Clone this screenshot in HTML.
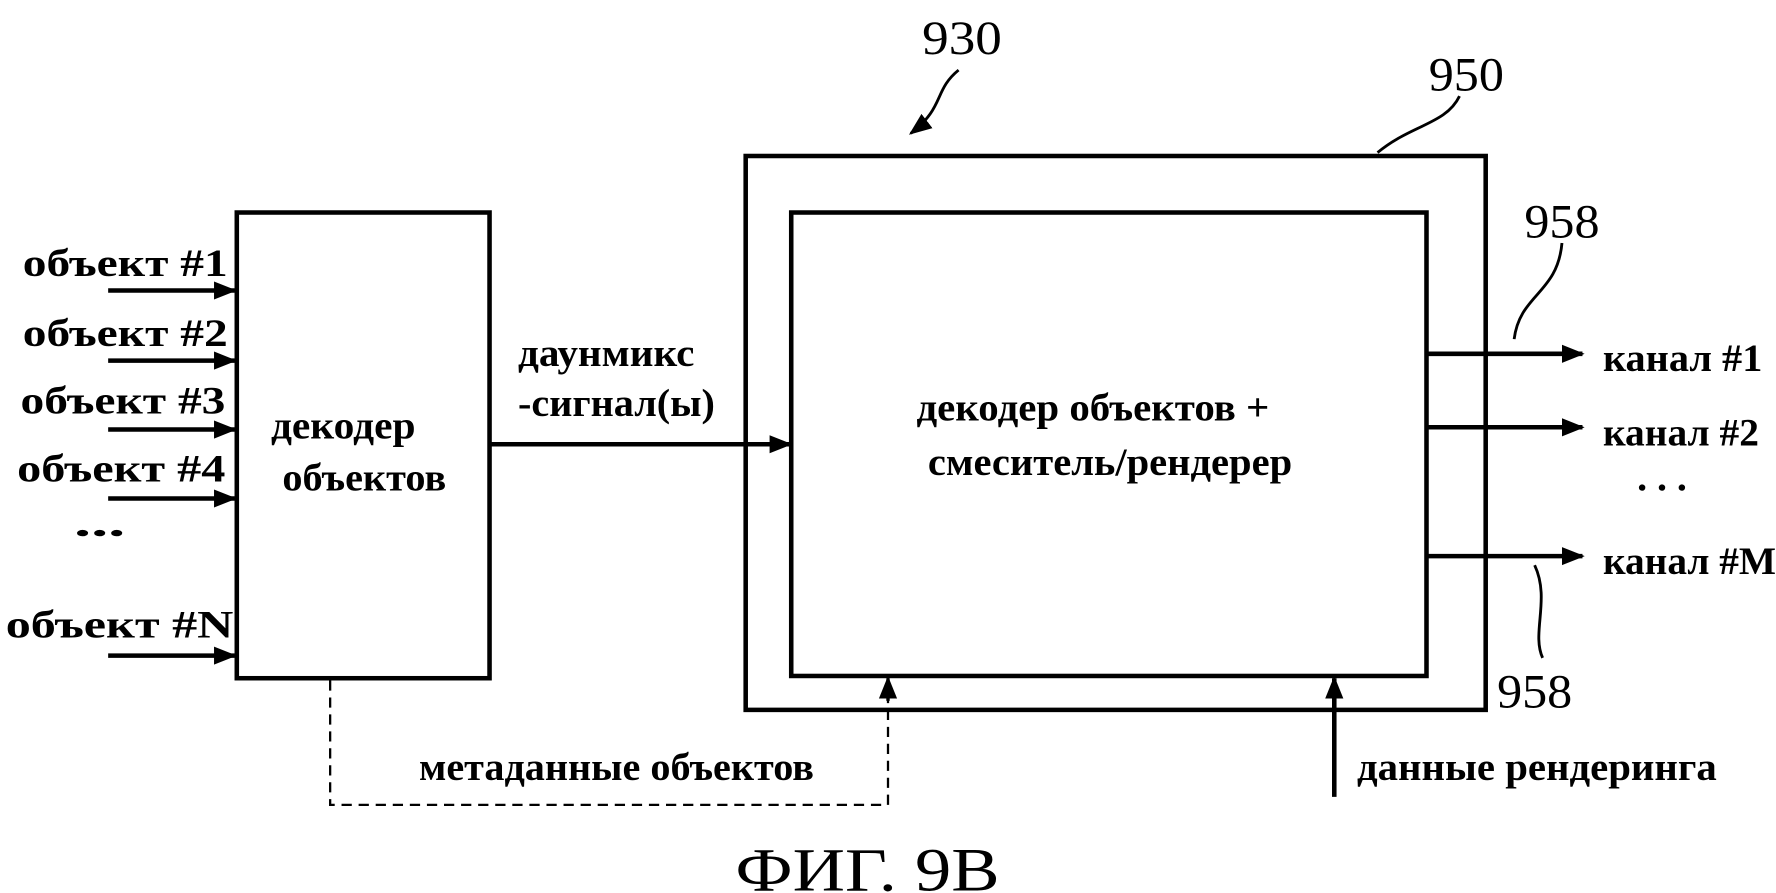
<!DOCTYPE html>
<html><head><meta charset="utf-8"><style>
html,body{margin:0;padding:0;background:#fff;width:1776px;height:893px;overflow:hidden}
svg{display:block}
text{font-family:"Liberation Serif",serif;fill:#000}
.t{font-size:35px;font-weight:bold}
</style></head><body>
<svg width="1776" height="893" viewBox="0 0 1560 790" preserveAspectRatio="none" xmlns="http://www.w3.org/2000/svg">
<defs>
<marker id="b" viewBox="0 0 10 10" refX="9" refY="5" markerWidth="20" markerHeight="20" orient="auto" markerUnits="userSpaceOnUse"><path d="M0,1 L10,5 L0,9 z" fill="#000"/></marker></defs>
<g stroke="#000" fill="none">
<rect x="208" y="188" width="222" height="412" stroke-width="4"/>
<rect x="655" y="138" width="650" height="490" stroke-width="4"/>
<rect x="695" y="188" width="558" height="410" stroke-width="4"/>
<g stroke-width="4" marker-end="url(#b)">
<line x1="95" y1="257" x2="206" y2="257"/>
<line x1="95" y1="319" x2="206" y2="319"/>
<line x1="95" y1="380" x2="206" y2="380"/>
<line x1="95" y1="441" x2="206" y2="441"/>
<line x1="95" y1="580" x2="206" y2="580"/>
<line x1="430" y1="393" x2="694" y2="393"/>
<line x1="1253" y1="313" x2="1390" y2="313"/>
<line x1="1253" y1="378" x2="1390" y2="378"/>
<line x1="1253" y1="492" x2="1390" y2="492"/>
<line x1="1172" y1="705" x2="1172" y2="600"/>
</g>
<polyline points="290,602 290,712 780,712 780,610" stroke-width="2" stroke-dasharray="9,6"/>
<line x1="780" y1="620" x2="780" y2="600" stroke-width="3" marker-end="url(#b)"/>
<path d="M842,62 C820,80 830,95 800,118" stroke-width="2.5" marker-end="url(#b)"/>
<path d="M1282,85 C1270,110 1240,110 1210,135" stroke-width="2.5"/>
<path d="M1372,215 C1368,260 1335,260 1330,300" stroke-width="2.5"/>
<path d="M1348,500 C1362,530 1345,560 1355,582" stroke-width="2.5"/>
</g>
<g class="t" lengthAdjust="spacingAndGlyphs">
<text x="20" y="244" textLength="180" lengthAdjust="spacingAndGlyphs">объект #1</text>
<text x="20" y="306" textLength="180" lengthAdjust="spacingAndGlyphs">объект #2</text>
<text x="18" y="366" textLength="180" lengthAdjust="spacingAndGlyphs">объект #3</text>
<text x="15" y="426" textLength="183" lengthAdjust="spacingAndGlyphs">объект #4</text>
<text x="65" y="474" textLength="45" lengthAdjust="spacingAndGlyphs">...</text>
<text x="5" y="564" textLength="200" lengthAdjust="spacingAndGlyphs">объект #N</text>
<text x="238" y="388" textLength="127" lengthAdjust="spacingAndGlyphs">декодер</text>
<text x="248" y="434" textLength="144" lengthAdjust="spacingAndGlyphs">объектов</text>
<text x="455" y="324" textLength="155" lengthAdjust="spacingAndGlyphs">даунмикс</text>
<text x="455" y="368" textLength="173" lengthAdjust="spacingAndGlyphs">-сигнал(ы)</text>
<text x="805" y="372" textLength="310" lengthAdjust="spacingAndGlyphs">декодер объектов +</text>
<text x="815" y="420" textLength="320" lengthAdjust="spacingAndGlyphs">смеситель/рендерер</text>
<text x="1408" y="328" textLength="140" lengthAdjust="spacingAndGlyphs">канал #1</text>
<text x="1408" y="394" textLength="137" lengthAdjust="spacingAndGlyphs">канал #2</text>
<text x="1438" y="434">. . .</text>
<text x="1408" y="508" textLength="152" lengthAdjust="spacingAndGlyphs">канал #M</text>
<text x="368" y="690" textLength="347" lengthAdjust="spacingAndGlyphs">метаданные объектов</text>
<text x="1192" y="690" textLength="316" lengthAdjust="spacingAndGlyphs">данные рендеринга</text>
</g>
<text x="845" y="48" font-size="42" text-anchor="middle" textLength="70" lengthAdjust="spacingAndGlyphs">930</text>
<text x="1288" y="80" font-size="42" text-anchor="middle" textLength="66" lengthAdjust="spacingAndGlyphs">950</text>
<text x="1372" y="210" font-size="42" text-anchor="middle" textLength="66" lengthAdjust="spacingAndGlyphs">958</text>
<text x="1348" y="626" font-size="42" text-anchor="middle" textLength="66" lengthAdjust="spacingAndGlyphs">958</text>
<text x="762" y="788" font-size="54" text-anchor="middle" textLength="232" lengthAdjust="spacingAndGlyphs">ФИГ. 9B</text>
</svg>
</body></html>
